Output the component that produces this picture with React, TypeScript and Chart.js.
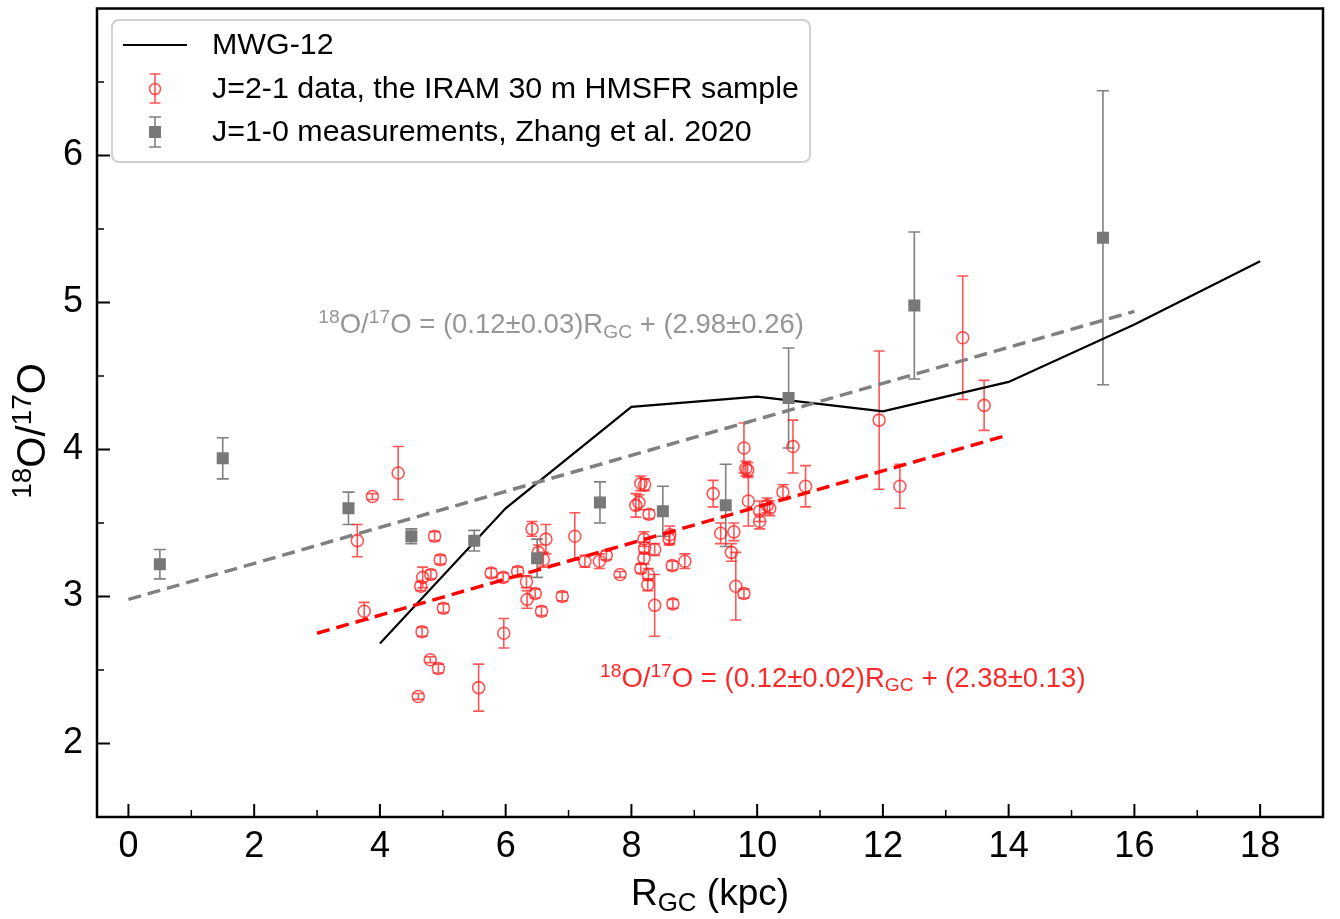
import React, { useEffect, useRef } from 'react';
import { Chart, registerables } from 'chart.js';

Chart.register(...registerables);

const FONT = '"Liberation Sans", Arial, Helvetica, sans-serif';

// J=2-1 data, IRAM 30 m HMSFR sample
const redX = [3.64, 4.29, 3.88, 3.75, 4.65, 4.68, 4.81, 4.87, 4.96, 5.01, 4.67, 4.80, 4.93, 4.61, 5.57, 5.77, 5.96, 5.97, 6.19, 6.33, 6.34, 6.47, 6.57, 6.42, 6.64, 6.52, 6.60, 6.90, 7.10, 7.26, 7.49, 7.60, 7.82, 8.07, 8.12, 8.15, 8.21, 8.28, 8.20, 8.21, 8.37, 8.20, 8.15, 8.27, 8.26, 8.37, 8.61, 8.60, 8.65, 8.85, 8.66, 9.30, 9.42, 9.63, 9.59, 9.66, 9.79, 9.79, 9.85, 9.82, 9.86, 10.04, 10.04, 10.16, 10.20, 10.41, 10.57, 10.77, 11.94, 12.27, 13.27, 13.61];
const redY = [3.38, 3.84, 3.68, 2.90, 3.07, 3.13, 3.15, 3.41, 3.25, 2.92, 2.76, 2.57, 2.51, 2.32, 2.38, 3.16, 3.13, 2.75, 3.17, 3.10, 2.98, 3.02, 2.90, 3.46, 3.39, 3.30, 3.25, 3.00, 3.41, 3.24, 3.24, 3.28, 3.15, 3.62, 3.64, 3.77, 3.76, 3.56, 3.39, 3.33, 3.32, 3.26, 3.19, 3.15, 3.08, 2.94, 3.42, 3.39, 3.21, 3.24, 2.95, 3.70, 3.43, 3.44, 3.30, 3.07, 3.02, 4.01, 3.86, 3.87, 3.65, 3.58, 3.51, 3.62, 3.60, 3.71, 4.02, 3.75, 4.20, 3.75, 4.76, 4.30];
const redErr = [0.11, 0.18, 0.02, 0.06, 0.03, 0.07, 0.03, 0.03, 0.03, 0.03, 0.03, 0.02, 0.03, 0.02, 0.16, 0.03, 0.03, 0.10, 0.03, 0.04, 0.06, 0.03, 0.03, 0.05, 0.10, 0.05, 0.05, 0.03, 0.16, 0.04, 0.05, 0.03, 0.02, 0.08, 0.05, 0.05, 0.04, 0.03, 0.05, 0.04, 0.04, 0.04, 0.03, 0.04, 0.04, 0.21, 0.06, 0.04, 0.03, 0.05, 0.03, 0.09, 0.07, 0.06, 0.06, 0.23, 0.03, 0.17, 0.05, 0.05, 0.17, 0.07, 0.05, 0.05, 0.05, 0.05, 0.18, 0.14, 0.47, 0.15, 0.42, 0.17];

// J=1-0 measurements, Zhang et al. 2020
const grayX = [0.5, 1.5, 3.5, 4.5, 5.5, 6.5, 7.5, 8.5, 9.5, 10.5, 12.5, 15.5];
const grayY = [3.22, 3.94, 3.60, 3.41, 3.38, 3.26, 3.64, 3.58, 3.62, 4.35, 4.98, 5.44];
const grayErr = [0.10, 0.14, 0.11, 0.05, 0.07, 0.13, 0.14, 0.17, 0.28, 0.34, 0.50, 1.00];

// MWG-12 model
const mwgX = [4, 6, 8, 10, 12, 14, 16, 18];
const mwgY = [2.68, 3.60, 4.29, 4.36, 4.26, 4.46, 4.85, 5.28];

// linear fits
const grayFitX = [0, 16];
const grayFitY = [2.98, 4.94];
const redFitX = [3, 14];
const redFitY = [2.75, 4.10];

const xTicks = [0, 2, 4, 6, 8, 10, 12, 14, 16, 18];
const xMinor = [1, 3, 5, 7, 9, 11, 13, 15, 17];
const yTicks = [2, 3, 4, 5, 6];
const yMinor = [1.5, 2.5, 3.5, 4.5, 5.5, 6.5];

const RED = 'rgba(255, 30, 30, 0.75)';
const GRAY = 'rgb(128,128,128)';

type Seg = [string, number];

function drawRich(ctx: CanvasRenderingContext2D, segs: Seg[], x: number, y: number, size: number, color: string, align: 'left' | 'center' = 'left') {
  const parts = segs.map(([t, k]) => {
    const fs = k ? size * 0.7 : size;
    ctx.font = `${fs}px ${FONT}`;
    return { t, k, fs, w: ctx.measureText(t).width };
  });
  const total = parts.reduce((a, p) => a + p.w, 0);
  let cx = align === 'center' ? x - total / 2 : x;
  ctx.textAlign = 'left';
  ctx.textBaseline = 'alphabetic';
  ctx.fillStyle = color;
  for (const p of parts) {
    ctx.font = `${p.fs}px ${FONT}`;
    const dy = p.k === 1 ? -size * 0.36 : p.k === 2 ? size * 0.17 : 0;
    ctx.fillText(p.t, cx, y + dy);
    cx += p.w;
  }
}

function errBar(ctx: CanvasRenderingContext2D, px: number, y1: number, y2: number, cap: number) {
  ctx.beginPath();
  ctx.moveTo(px, y1);
  ctx.lineTo(px, y2);
  ctx.moveTo(px - cap, y1);
  ctx.lineTo(px + cap, y1);
  ctx.moveTo(px - cap, y2);
  ctx.lineTo(px + cap, y2);
  ctx.stroke();
}

const decorPlugin = {
  id: 'decor',
  beforeDatasetsDraw(chart: any) {
    const { ctx, scales } = chart;
    const xs = scales.x, ys = scales.y;
    ctx.save();
    ctx.lineWidth = 1.6;
    ctx.strokeStyle = GRAY;
    grayX.forEach((v, i) => {
      errBar(ctx, xs.getPixelForValue(v), ys.getPixelForValue(grayY[i] + grayErr[i]), ys.getPixelForValue(grayY[i] - grayErr[i]), 6);
    });
    ctx.strokeStyle = RED;
    redX.forEach((v, i) => {
      errBar(ctx, xs.getPixelForValue(v), ys.getPixelForValue(redY[i] + redErr[i]), ys.getPixelForValue(redY[i] - redErr[i]), 5.5);
    });
    ctx.restore();
  },
  afterDraw(chart: any) {
    const { ctx, scales, chartArea } = chart;
    const xs = scales.x, ys = scales.y;
    const { left, right, top, bottom } = chartArea;
    ctx.save();
    // ticks (inward)
    ctx.strokeStyle = '#000';
    ctx.lineWidth = 2;
    xTicks.forEach((v) => {
      const p = xs.getPixelForValue(v);
      ctx.beginPath(); ctx.moveTo(p, bottom); ctx.lineTo(p, bottom - 13); ctx.stroke();
    });
    yTicks.forEach((v) => {
      const p = ys.getPixelForValue(v);
      ctx.beginPath(); ctx.moveTo(left, p); ctx.lineTo(left + 13, p); ctx.stroke();
    });
    ctx.lineWidth = 1.5;
    xMinor.forEach((v) => {
      const p = xs.getPixelForValue(v);
      ctx.beginPath(); ctx.moveTo(p, bottom); ctx.lineTo(p, bottom - 7); ctx.stroke();
    });
    yMinor.forEach((v) => {
      const p = ys.getPixelForValue(v);
      ctx.beginPath(); ctx.moveTo(left, p); ctx.lineTo(left + 7, p); ctx.stroke();
    });
    // frame
    ctx.lineWidth = 2.5;
    ctx.strokeRect(left, top, right - left, bottom - top);

    // legend
    const bx = 112, by = 20, bw = 698, bh = 142, r = 7;
    ctx.beginPath();
    ctx.moveTo(bx + r, by);
    ctx.arcTo(bx + bw, by, bx + bw, by + bh, r);
    ctx.arcTo(bx + bw, by + bh, bx, by + bh, r);
    ctx.arcTo(bx, by + bh, bx, by, r);
    ctx.arcTo(bx, by, bx + bw, by, r);
    ctx.closePath();
    ctx.fillStyle = 'rgba(255,255,255,0.85)';
    ctx.fill();
    ctx.strokeStyle = '#d0d0d0';
    ctx.lineWidth = 2;
    ctx.stroke();

    ctx.strokeStyle = '#000';
    ctx.lineWidth = 2.2;
    ctx.beginPath(); ctx.moveTo(123, 45); ctx.lineTo(187, 45); ctx.stroke();

    ctx.strokeStyle = RED;
    ctx.lineWidth = 1.6;
    errBar(ctx, 155, 74, 103, 5.5);
    ctx.beginPath(); ctx.arc(155, 89, 5.5, 0, Math.PI * 2); ctx.stroke();

    ctx.strokeStyle = GRAY;
    errBar(ctx, 155, 117, 147, 6);
    ctx.fillStyle = 'rgb(120,120,120)';
    ctx.fillRect(149, 126, 12, 12);

    ctx.fillStyle = '#000';
    ctx.font = `30.4px ${FONT}`;
    ctx.textAlign = 'left';
    ctx.textBaseline = 'middle';
    ctx.fillText('MWG-12', 212, 46);
    ctx.fillText('J=2-1 data, the IRAM 30 m HMSFR sample', 212, 90);
    ctx.fillText('J=1-0 measurements, Zhang et al. 2020', 212, 133);

    // annotations
    drawRich(ctx, [['18', 1], ['O/', 0], ['17', 1], ['O = (0.12±0.03)R', 0], ['GC', 2], [' + (2.98±0.26)', 0]],
      xs.getPixelForValue(3.02), ys.getPixelForValue(4.79), 27.5, 'rgb(150,150,150)');
    drawRich(ctx, [['18', 1], ['O/', 0], ['17', 1], ['O = (0.12±0.02)R', 0], ['GC', 2], [' + (2.38±0.13)', 0]],
      xs.getPixelForValue(7.5), ys.getPixelForValue(2.387), 27.5, 'rgb(255,40,40)');

    // axis titles
    drawRich(ctx, [['R', 0], ['GC', 2], [' (kpc)', 0]], (left + right) / 2, 905, 37, '#000', 'center');
    ctx.save();
    ctx.translate(45, 431);
    ctx.rotate(-Math.PI / 2);
    drawRich(ctx, [['18', 1], ['O/', 0], ['17', 1], ['O', 0]], 0, 0, 40, '#000', 'center');
    ctx.restore();

    ctx.restore();
  },
};

export default function App() {
  const ref = useRef<HTMLCanvasElement | null>(null);
  useEffect(() => {
    document.body.style.margin = '0';
    const canvas = ref.current;
    if (!canvas) return;
    const chart = new Chart(canvas, {
      type: 'scatter',
      data: {
        datasets: [
          {
            label: 'redfit', type: 'line',
            data: redFitX.map((x, i) => ({ x, y: redFitY[i] })),
            borderColor: 'rgb(255,0,0)', borderWidth: 3.5, borderDash: [13, 7],
            pointRadius: 0, fill: false, order: 1,
          },
          {
            label: 'grayfit', type: 'line',
            data: grayFitX.map((x, i) => ({ x, y: grayFitY[i] })),
            borderColor: 'rgb(128,128,128)', borderWidth: 3.5, borderDash: [13, 7],
            pointRadius: 0, fill: false, order: 2,
          },
          {
            label: 'J=1-0 measurements, Zhang et al. 2020',
            data: grayX.map((x, i) => ({ x, y: grayY[i] })),
            pointStyle: 'rect', pointRadius: 8.5,
            backgroundColor: 'rgb(120,120,120)', borderColor: 'rgb(120,120,120)', borderWidth: 0,
            order: 3,
          },
          {
            label: 'J=2-1 data, the IRAM 30 m HMSFR sample',
            data: redX.map((x, i) => ({ x, y: redY[i] })),
            pointStyle: 'circle', pointRadius: 6,
            backgroundColor: 'rgba(0,0,0,0)', borderColor: RED, borderWidth: 1.6,
            order: 4,
          },
          {
            label: 'MWG-12', type: 'line',
            data: mwgX.map((x, i) => ({ x, y: mwgY[i] })),
            borderColor: '#000', borderWidth: 2.2, pointRadius: 0, fill: false, tension: 0,
            order: 5,
          },
        ],
      },
      options: {
        animation: false,
        responsive: false,
        maintainAspectRatio: false,
        layout: { padding: { top: 6, right: 17, left: 0, bottom: 0 } },
        plugins: { legend: { display: false }, tooltip: { enabled: false } },
        scales: {
          x: {
            type: 'linear', min: -0.5, max: 19,
            grid: { display: false, drawTicks: false },
            border: { display: false },
            ticks: { font: { family: FONT, size: 36 }, color: '#000', padding: 8, maxRotation: 0, autoSkip: false },
            afterBuildTicks: (s: any) => { s.ticks = xTicks.map((v) => ({ value: v })); },
            afterFit: (s: any) => { s.height = 102; s.paddingLeft = 0; s.paddingRight = 0; },
          },
          y: {
            type: 'linear', min: 1.5, max: 7.0,
            grid: { display: false, drawTicks: false },
            border: { display: false },
            ticks: { font: { family: FONT, size: 36 }, color: '#000', padding: 14, autoSkip: false },
            afterBuildTicks: (s: any) => { s.ticks = yTicks.map((v) => ({ value: v })); },
            afterFit: (s: any) => { s.width = 97; s.paddingTop = 0; s.paddingBottom = 0; },
          },
        },
      },
      plugins: [decorPlugin],
    } as any);
    return () => chart.destroy();
  }, []);
  return (
    <div style={{ width: 1340, height: 919, background: '#fff' }}>
      <canvas ref={ref} width={1340} height={919} style={{ display: 'block' }} />
    </div>
  );
}
